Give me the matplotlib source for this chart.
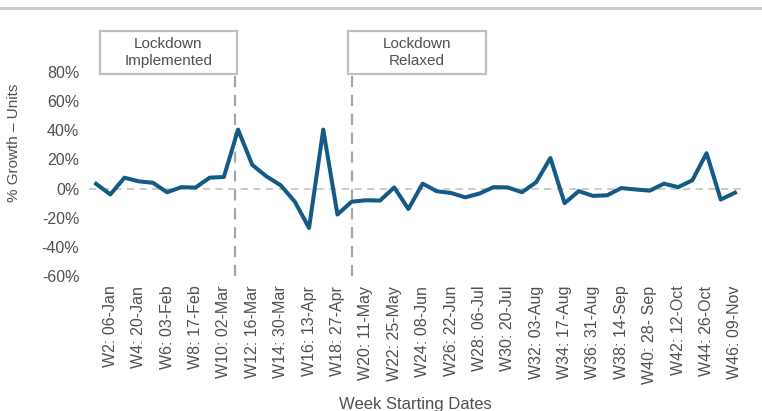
import matplotlib
matplotlib.use("Agg")
import matplotlib.pyplot as plt
from matplotlib.patches import Rectangle
from matplotlib.lines import Line2D

plt.rcParams['font.family'] = ['Liberation Sans', 'DejaVu Sans']

weeks = list(range(1, 47))
growth = [3.3, -4, 7.5, 5, 4, -2.5, 1, 0.7, 7.5, 8,
          40.5, 16.3, 8.4, 2.3, -9, -27, 40.5, -17.8, -9, -8,
          -8.2, 0.8, -14, 3.4, -1.8, -3, -6, -3.4, 1, 0.8,
          -2.5, 4.4, 21, -10, -1.7, -5, -4.6, 0.4, -0.6, -1.4,
          3.4, 1, 5.7, 24.3, -7.5, -2.8]
tick_weeks = list(range(2, 47, 2))
tick_labels = ["W2: 06-Jan", "W4: 20-Jan", "W6: 03-Feb", "W8: 17-Feb", "W10: 02-Mar",
               "W12: 16-Mar", "W14: 30-Mar", "W16: 13-Apr", "W18: 27-Apr", "W20: 11-May",
               "W22: 25-May", "W24: 08-Jun", "W26: 22-Jun", "W28: 06-Jul", "W30: 20-Jul",
               "W32: 03-Aug", "W34: 17-Aug", "W36: 31-Aug", "W38: 14-Sep", "W40: 28- Sep",
               "W42: 12-Oct", "W44: 26-Oct", "W46: 09-Nov"]
yticks = [-60, -40, -20, 0, 20, 40, 60, 80]
events = [10.8, 19]
event_labels = ["Lockdown\nImplemented", "Lockdown\nRelaxed"]
box_x = [(1.28, 10.9), (18.75, 28.46)]

txt = '#505050'
fig = plt.figure(figsize=(7.62, 4.11), dpi=100)
ax = fig.add_axes([0.1168, 0.3285, 0.9738 - 0.1168, 0.8954 - 0.3285])

ax.axhline(0, color='#c8c8c8', lw=1.3, ls=(0, (4, 3)), zorder=1)
for ev in events:
    ax.plot([ev, ev], [-60, 108], color='#a6a6a6', lw=1.6, ls=(0, (5, 3.5)),
            clip_on=False, zorder=2)
ax.plot(weeks, growth, color='#135a84', lw=2.9, solid_joinstyle='round', zorder=3)

for (x0, x1), lab in zip(box_x, event_labels):
    r = Rectangle((x0, 79), x1 - x0, 29, facecolor='white', edgecolor='#bfbfbf',
                  lw=1.6, clip_on=False, zorder=4)
    ax.add_patch(r)
    ax.text((x0 + x1) / 2, 93.5, lab, ha='center', va='center', fontsize=11,
            color=txt, linespacing=1.2, zorder=5, clip_on=False)

ax.set_xlim(0.5, 46.5)
ax.set_ylim(-60, 100)
ax.set_yticks(yticks)
ax.set_yticklabels([f"{v}%" for v in yticks], fontsize=11.5, color=txt)
ax.set_xticks(tick_weeks)
ax.set_xticklabels(tick_labels, rotation=90, fontsize=11.5, color=txt)
ax.tick_params(length=0, pad=7)
for s in ax.spines.values():
    s.set_visible(False)

ax.set_ylabel("% Growth \u2013 Units", fontsize=11, color=txt)
ax.yaxis.set_label_coords(-0.104, 0.571)
fig.text(415 / 762, 1 - 404 / 411, "Week Starting Dates", ha='center', va='center',
         fontsize=12, color=txt)

fig.add_artist(Line2D([0, 1], [1 - 8 / 411, 1 - 8 / 411], color='#c8c8c8', lw=2,
                      transform=fig.transFigure))

fig.savefig("out.png", dpi=100)
